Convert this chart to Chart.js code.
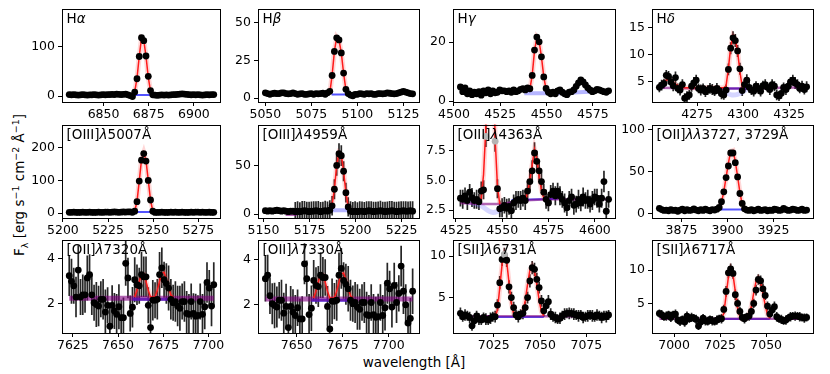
<!DOCTYPE html>
<html>
<head>
<meta charset="utf-8">
<script src="https://cdn.jsdelivr.net/npm/chart.js@4.4.1/dist/chart.umd.min.js"></script>
<style>
body { margin: 0; background: #fff; width: 830px; height: 374px; position: relative; overflow: hidden; font-family: 'DejaVu Sans', sans-serif; }
canvas { position: absolute; }
#xlab { position: absolute; left: 414px; top: 362px; transform: translate(-50%, -50%); font-size: 13.5px; white-space: nowrap; }
#ylab { position: absolute; left: 19px; top: 185px; transform: translate(-50%, -50%) rotate(-90deg); font-size: 13.5px; white-space: nowrap; }
#ylab sub, #ylab sup { font-size: 70%; line-height: 0; }
</style>
</head>
<body>
<div id="ylab">F<sub>λ</sub> [erg s<sup>−1</sup> cm<sup>−2</sup> Å<sup>−1</sup>]</div>
<div id="xlab">wavelength [Å]</div>
<script>
// pas de l'échantillonnage en longueur d'onde (Å)
const STEP = 1.25;

// ---- H alpha
const haStart = 6831;
const haFlux = [3,2.5,3,2.5,2,2.5,3,2.5,2,2.5, 2.5,3,2.5,2,2.5,3,2.5,3,3,3.5, 3,4,3.5,3,3.5,4,2.5,1,-1,
  8,35,80,118,112,81,40,11, 2.5,2,1.5,2,2.5,2,2.5,2,2.5,3, 3,3.5,4,4.5,4,3.5,3,2.5,3,2.5, 3,2.5,2,2.5,3,2.5,3,3];
const haFitFrom = 28;
const haFit = [1.5,9,36,80,117,113,80,38,10,2.5];
const haBlue = [[6867,2],[6876,2]];
const haXTicks = [6850, 6875, 6900];
const haYTicks = [0, 100];
const haYLim = [-12, 177];

// ---- H beta
const hbStart = 5050;
const hbFlux = [3.5,3,2.5,3,3.2,3,3,3.5,3.5,3, 2.8,3,3.5,3,2.5,2.8,3,2.5,2.5,2.8, 3,2.5,3,2.8,3,3.2,2.5,3.5,4.5,
  15,31,40,38.6,30,16.6,5.8, 3,2,1.5,2.5,2.5,3,2.8,2.5,3,2.8, 3,2.5,2.5,3,3,2.8,3,3.5,3.2,3, 2.8,3,3.5,4,4.5,4,3.5,3,2.8];
const hbFitFrom = 28;
const hbFit = [3.5,15,31,40.5,38.5,30,16.5,5.5,2.8];
const hbBlue = [[5086,2.3],[5094,2.3]];
const hbXTicks = [5050, 5075, 5100, 5125];
const hbYTicks = [0, 25, 50];
const hbYLim = [-2.6, 59.5];

// ---- H gamma
const hgStart = 4503.5;
const hgFlux = [4.8,3.2,4.5,2.5,3.5,2.2,3,2.5,3.2,2, 3.5,2.8,3.8,2.5,3.5,2.8,3,3.8,3.5,3.5,
  3.2,3.5,3,3.8,3.2,3.5,4,4.2,3.8,4.5, 4.2,8.7,17.3,21.7,20.1,15,8.2,4.3,3,2.5,
  3,2.5,3.5,3.8,3,2.5,2.2,3,3.2,3.8, 5,6.2,7.2,6.5,5.5,4.5,3.8,3.2,3.5,4, 3.8,3.5,3.2,3,3.5];
const hgFitFrom = 30;
const hgFit = [4,8.7,17,21.5,20.3,15,8.3,4,3];
const hgBlue = [[4538,2.7],[4556,2.7],[4576,3.3]];
const hgXTicks = [4500, 4525, 4550, 4575];
const hgYTicks = [0, 20];
const hgYLim = [-0.3, 31.4];

// ---- H delta
const hdStart = 4254.5;
const hdFlux = [4.0,4.4,4.7,6.2,6.0,5.0,4.3,5.8,3.8,3.5, 4.5,2.0,2.3,2.6,4.2,4.8,5.3,3.8,3.5,3.8,
  3.2,3.5,3.8,3.6,3.3,3.8,3.4,2.8,2.6,3.5, 7.3,11.2,13.1,12.6,10.7,7.4,3.4,
  4.5,5.3,4.0,3.5,3.3,4.2,3.8,3.3,4.3,4.5, 4.0,3.6,4.5,4.2,2.6,2.4,2.9,4.0,3.6,4.2, 5.0,5.3,4.8,4.5,3.8,4.2,3.6,4.1];
const hdErr = [0.9,1.0,0.9,1.0,1.0,0.9,1.0,1.1,0.9,1.0, 1.0,0.9,1.0,0.9,1.0,1.1,1.0,0.9,1.0,0.9,
  1.0,0.9,1.0,1.0,0.9,1.0,0.9,1.0,0.9,1.0, 1.1,1.1,1.2,1.2,1.1,1.1,1.0,
  1.0,1.1,1.0,0.9,1.0,0.9,1.0,1.0,0.9,1.0, 0.9,1.0,1.0,0.9,1.0,0.9,1.0,0.9,1.0,1.0, 0.9,1.0,1.1,1.0,0.9,1.0,0.9,1.0];
const hdFitFrom = 0;
const hdFit = [4.2,4.4,4.8,5.3,5.5,5.3,4.9,4.6,4.3,4.1, 4.0,3.9,3.9,3.9,3.9,3.9,3.9,3.9,3.9,3.9,
  3.9,3.9,3.9,3.9,3.9,3.9,3.9,3.9,3.9,4.3, 7.5,11.4,13.5,12.9,10.6,6.9,4.1,3.9];
const hdCont = [[4254.5,3.9],[4275,3.8],[4300,3.8],[4334.5,4.0]];
const hdBlue = [[4288,3.8],[4302,3.8]];
const hdBlueSamples = [[4288,3.6],[4291,3.0],[4294,2.6],[4297,2.7],[4300,3.2],[4302,3.7]];
const hdXTicks = [4275, 4300, 4325];
const hdYTicks = [5, 10, 15];
const hdYLim = [1.3, 18.5];

// ---- [OIII] 5007
const o3aStart = 5203.5;
const o3aFlux = [2.5,2.5,3,2.5,2,2.5,3,2.5,2.5,3,2.5, 2,2.5,3,2.5,2.5,3,3,2.5,3,3.5, 3,2.5,3,3.5,3,4,3.5,2.5,
  6,35,98,162,182,159,100,40,6,
  2,2.5,2.5,3,2.5,2,2.5,3,2.5,3, 2.5,2.5,3,2.5,2,2.5,3,2.5,3,3, 2.5,3,2.5,2.5,3,2,2.5];
const o3aFitFrom = 28;
const o3aFit = [2.5,6,35,98,163,185,160,100,40,6,2.5];
const o3aBlue = [[5239,3],[5250,3]];
const o3aXTicks = [5200, 5225, 5250, 5275];
const o3aYTicks = [0, 100, 200];
const o3aYLim = [-15, 271];

// ---- [OIII] 4959
const o3bStart = 5151;
const o3bFlux = [3.5,3,3.5,3,3.5,4,3.5,3,3.5,3,2.5,3,3,
  2.5,3,2.5,3,3.5,3,2.5,3,3,3.5,3,2.5,3,3.5,3,4,
  8.5,25.5,50,62,60,44,22,7.4,
  3,2.5,3,2.5,3,3,2.5,3,3.5,3, 2.5,3,3,3.5,3,2.5,3,3,3.5,3, 2.5,3,3,3.5,3,3,3.5,3];
const o3bErr = [0.3,0.3,0.3,0.3,0.3,0.3,0.3,0.3,0.3,0.3,0.3,0.3,0.3,
  9.8,10.2,9.6,10.4,10,9.7,10.3,9.9,10.1,9.8,10.4,10,9.6,10.2,9.9,10.3,
  10,10.2,10.5,10.8,10.6,10.3,10.1,9.9,
  10.2,9.8,10.1,9.7,10.3,10,9.9,10.2,9.6,10.1, 10.3,9.8,10,10.2,9.7,10.1,9.9,10.4,10,9.8, 10.2,9.9,10.1,9.7,10.3,10,9.8,10.1];
const o3bFitFrom = 28;
const o3bFit = [3.5,9,26,50,63,61,44,22,7,3.2];
const o3bCont = [[5162,-0.6],[5168,-0.6]];
const o3bBlue = [[5187,4],[5197,4]];
const o3bXTicks = [5150, 5175, 5200, 5225];
const o3bYTicks = [0, 50];
const o3bYLim = [-4, 92];

// ---- [OIII] 4363
const o3cStart = 4527.4;
const o3cFlux = [3.5,3.4,3.7,3.3,4.0,3.55,3.3,3.4,3.2,4.1, 4.2,8.7,15,22,18,8.3,4.3,2.6,2.7,2.9,
  2.65,2.8,2.45,3.1,3.3,3.4,3.3,3.5,3.3,4.1, 4.9,5.8,7.3,6.6,5.8,4.9,4.0,3.4,3.1,3.8,
  4.1,3.7,4.1,3.7,3.4,3.1,2.7,3.3,3.6,2.9, 3.0,3.4,3.1,3.6,3.3,3.4,3.0,3.3,3.6,3.5, 3.0,3.5,4.9,2.4,3.4];
const o3cErr = [0.7,0.8,0.7,0.8,0.7,0.8,0.7,0.8,0.7,0.8, 0.8,0.9,1,1,0.9,0.9,0.8,0.7,0.8,0.7,
  0.8,0.7,0.8,0.7,0.8,0.7,0.8,0.7,0.8,0.8, 0.8,0.9,0.9,0.9,0.8,0.8,0.7,0.8,0.7,0.8,
  0.7,0.8,0.7,0.8,0.7,0.8,0.7,0.8,0.7,0.8, 0.7,0.8,0.7,0.8,0.7,0.8,0.7,0.8,0.7,0.8, 0.7,0.8,0.9,0.8,0.7];
const o3cGrey = [11, 15];
const o3cFitFrom = 8;
const o3cFit = [3.3,3.5,5.5,9.5,16,22,17,8.5,4.5,3.0, null,null,null,null,null,null,null,null,null,null,
  3.3,4.0,5.0,6.3,7.6,6.8,5.3,4.2,3.5,3.3];
const o3cCont = [[4527.4,3.1],[4540,3.0],[4550,3.0],[4560,3.3],[4575,3.4],[4607.4,3.4]];
const o3cBlue = [[4555,3.35],[4580,3.45]];
const o3cBlueSamples = [[4531,3.2],[4538,2.9],[4545,2.3],[4552,2.8],[4558,3.3]];
const o3cXTicks = [4525, 4550, 4575, 4600];
const o3cYTicks = [2.5, 5.0, 7.5];
const o3cYLim = [1.83, 9.7];

// ---- [OII] 3727, 3729
const o2aStart = 3863;
const o2aFlux = [6,4.5,3.5,4,3,4.5,3.5,4,2.5,4, 5,3,4.5,3.5,4,5.5,4,3,4.5,3.5, 5,4,3,4.5,4,5,
  7,14,25.7,42.7,56.5,72,72,60.5,43.5,23.7,11.9,5.5,
  4,3.5,4.5,3,4,5,3.5,4,4.5,3, 4,3.5,5,4.5,3.5,4,6,4.5,3.5,4, 5,4.5,3.5,4,5,3.5,4];
const o2aFitFrom = 26;
const o2aFit = [6,13,26,43,60,74,75,62,44,25,11,5];
const o2aBlue = [[3896,4.5],[3909,4.5]];
const o2aXTicks = [3875, 3900, 3925];
const o2aYTicks = [0, 50, 100];
const o2aYLim = [-5.5, 106];

// ---- [OII] 7320
const o2bStart = 7623;
const o2bFlux = [3.25,3.0,2.8,2.3,3.5,2.3,2.4,2.4,3.15,3.3, 2.4,2.05,1.97,1.9,2.2,2.2,1.63,1.93,1.0,1.93,
  1.68,1.53,1.87,1.38,1.38,3.8,3.15,1.57,1.85,3.07, 2.85,2.8,3.3,3.2,3.2,1.93,0.94,2.16,2.16,2.2,
  3.3,3.6,3.07,2.9,2.7,2.2,2.05,2.1,1.9,1.8, 2.1,2.1,1.57,1.53,2.1,1.57,1.45,1.48,2.1,1.53, 1.87,2.95,2.7,1.9,2.85];
const o2bErr = [0.9,1,0.8,0.9,1.1,0.8,0.9,0.8,1,0.9, 0.9,0.8,1,0.9,0.8,0.9,1,0.8,0.9,0.9,
  0.8,0.9,1,0.8,0.9,1,0.9,0.8,0.9,1, 0.9,0.8,1,0.9,0.9,0.8,1,0.9,0.8,0.9,
  1,0.9,0.8,0.9,1,0.9,0.8,0.9,0.9,1, 0.8,0.9,1,0.9,0.8,0.9,1,0.9,0.8,0.9, 1,0.9,0.8,0.9,1];
const o2bFitFrom = 29;
const o2bFit = [2.3,2.6,3.0,3.3,3.3,3.0,2.6,2.3,2.3,2.3,2.6,3.0,3.35,3.4,3.1,2.7,2.4,2.27];
const o2bCont = [[7623,2.25],[7703,2.25]];
const o2bBlue = [[7658,2.2],[7681,2.2]];
const o2bXTicks = [7625, 7650, 7675, 7700];
const o2bYTicks = [2, 4];
const o2bYLim = [0.7, 4.86];

// ---- [OII] 7330
const o2cStart = 7633;
const o2cFlux = [3.15,3.3,2.4,2.05,1.97,1.9,2.2,2.2,1.63,1.93, 1.0,1.93,1.68,1.53,1.87,1.38,1.38,3.8,3.15,1.57,
  1.85,3.07,2.85,2.8,3.3,3.2,3.2,1.93,0.94,2.16, 2.16,2.2,3.3,3.6,3.07,2.9,2.7,2.2,2.05,2.1,
  1.9,1.8,2.1,2.1,1.57,1.53,2.1,1.57,1.45,1.48, 2.1,1.53,1.87,2.95,2.7,1.9,2.85, 2.1,2.5,3.7,2.6,2.0,1.2,1.4,2.6];
const o2cErr = [1,0.9,0.8,0.9,1,0.9,0.8,0.9,0.9,1, 0.8,0.9,1,0.9,0.8,0.9,1,0.9,0.8,0.9,
  1,0.9,0.8,0.9,1,0.9,0.8,0.9,0.9,1, 0.8,0.9,1,0.9,0.8,0.9,1,0.9,0.8,0.9,
  1,0.9,0.8,0.9,1,0.9,0.8,0.9,0.9,1, 0.8,0.9,1,0.9,0.8,0.9,1,0.9,0.8,0.9, 1,0.9,0.8,0.9,1];
const o2cFitFrom = 21;
const o2cFit = [2.3,2.6,3.0,3.3,3.3,3.0,2.6,2.3,2.3,2.3,2.6,3.0,3.35,3.4,3.1,2.7,2.4,2.27];
const o2cCont = [[7633,2.25],[7713,2.25]];
const o2cBlue = [[7658,2.2],[7681,2.2]];
const o2cXTicks = [7650, 7675, 7700];
const o2cYTicks = [2, 4];
const o2cYLim = [0.76, 4.87];

// ---- [SII] 6731
const s2aStart = 7007;
const s2aFlux = [3.1,2.7,2.9,2.8,2.6,1.6,2.2,2.8,2.4,2.3, 2.6,2.4,2.3,2.5,2.7,2.7,4.1,6.8,9.6,10.2,
  9.5,6.3,5.0,3.8,2.9,2.7,3.0,3.1,3.8,5.0, 7.0,8.6,8.4,7.2,6.2,4.6,3.4,4.0,4.5,3.0,
  2.7,2.6,2.4,2.5,2.8,3.0,3.1,3.1,3.1,3.0, 2.9,2.8,2.9,2.6,2.7,2.8,2.9,2.8,2.7,2.9, 2.8,2.6,2.8,2.7,2.9];
const s2aErr = [0.7,0.6,0.7,0.6,0.7,0.6,0.7,0.6,0.7,0.6, 0.6,0.7,0.6,0.7,0.6,0.7,0.7,0.8,0.8,0.8,
  0.8,0.8,0.7,0.7,0.6,0.7,0.6,0.7,0.7,0.7, 0.8,0.8,0.8,0.8,0.7,0.7,0.7,0.7,0.8,0.7,
  0.6,0.7,0.6,0.7,0.6,0.7,0.6,0.7,0.6,0.7, 0.6,0.7,0.6,0.7,0.6,0.7,0.6,0.7,0.6,0.7, 0.6,0.7,0.6,0.7,0.6];
const s2aGrey = [19];
const s2aFitFrom = 15;
const s2aFit = [2.7,3.5,6.2,9.0,10.1,9.3,6.8,4.3,3.0,2.7, 2.7,2.8,3.3,4.6,6.6,8.3,8.8,8.2,6.6,4.7, 3.3,2.8];
const s2aCont = [[7007,2.75],[7087,2.75]];
const s2aBlue = [[7026,2.65],[7052,2.65]];
const s2aXTicks = [7025, 7050, 7075];
const s2aYTicks = [5, 10];
const s2aYLim = [0.73, 12.0];

// ---- [SII] 6717
const s2bStart = 6992;
const s2bFlux = [3.5,3.3,3.0,3.1,3.3,2.9,3.3,3.4,2.5,2.3,2.6,2.2,
  3.1,2.7,2.9,2.8,2.6,1.6,2.2,2.8,2.4,2.3, 2.6,2.4,2.3,2.5,2.7,2.7,4.1,6.8,9.6,10.2,
  9.5,6.3,5.0,3.8,2.9,2.7,3.0,3.1,3.8,5.0, 7.0,8.6,8.4,7.2,6.2,4.6,3.4,4.0,4.5,3.0,
  2.7,2.6,2.4,2.5,2.8,3.0,3.1,3.1,3.1,3.0, 2.9,2.8,2.9];
const s2bErr = [0.6,0.7,0.6,0.7,0.6,0.7,0.6,0.7,0.6,0.7,0.6,0.7,
  0.7,0.6,0.7,0.6,0.7,0.6,0.7,0.6,0.7,0.6, 0.6,0.7,0.6,0.7,0.6,0.7,0.7,0.8,0.8,0.8,
  0.8,0.8,0.7,0.7,0.6,0.7,0.6,0.7,0.7,0.7, 0.8,0.8,0.8,0.8,0.7,0.7,0.7,0.7,0.8,0.7,
  0.6,0.7,0.6,0.7,0.6,0.7,0.6,0.7,0.6,0.7, 0.6,0.7,0.6];
const s2bFitFrom = 27;
const s2bFit = [2.7,3.5,6.2,9.0,10.1,9.3,6.8,4.3,3.0,2.7, 2.7,2.8,3.3,4.6,6.6,8.3,8.8,8.2,6.6,4.7, 3.3,2.8];
const s2bCont = [[6992,2.7],[7072,2.7]];
const s2bBlue = [[7026,2.65],[7052,2.65]];
const s2bXTicks = [7000, 7025, 7050];
const s2bYTicks = [5, 10];
const s2bYLim = [0.56, 14.6];

// disposition des panneaux (pixels de la figure)
const COLS = [62, 258, 453, 652];
const WID = [159, 162, 163, 162];
const ROWS = [6, 122, 237];
const HGT = 96;
const YW = 44, XH = 22, PT = 8, PR = 16;

Chart.defaults.font.family = "'DejaVu Sans', sans-serif";
Chart.defaults.color = '#000';

const BLUE = 'rgba(40,40,255,0.8)';
const PALEBLUE = 'rgba(90,90,255,0.45)';

const panels = [
  { t: 'Hα', start: haStart, flux: haFlux, fit: haFit, fitFrom: haFitFrom, blue: haBlue, xt: haXTicks, yt: haYTicks, yl: haYLim },
  { t: 'Hβ', start: hbStart, flux: hbFlux, fit: hbFit, fitFrom: hbFitFrom, blue: hbBlue, xt: hbXTicks, yt: hbYTicks, yl: hbYLim },
  { t: 'Hγ', start: hgStart, flux: hgFlux, fit: hgFit, fitFrom: hgFitFrom, blue: hgBlue, blueW: 4, blueC: PALEBLUE, xt: hgXTicks, yt: hgYTicks, yl: hgYLim },
  { t: 'Hδ', start: hdStart, flux: hdFlux, err: hdErr, fit: hdFit, fitFrom: hdFitFrom, cont: hdCont, blue: hdBlue, samples: hdBlueSamples, xt: hdXTicks, yt: hdYTicks, yl: hdYLim },
  { t: '[OIII]λ5007Å', start: o3aStart, flux: o3aFlux, fit: o3aFit, fitFrom: o3aFitFrom, blue: o3aBlue, xt: o3aXTicks, yt: o3aYTicks, yl: o3aYLim },
  { t: '[OIII]λ4959Å', start: o3bStart, flux: o3bFlux, err: o3bErr, fit: o3bFit, fitFrom: o3bFitFrom, cont: o3bCont, blue: o3bBlue, blueW: 4, blueC: PALEBLUE, xt: o3bXTicks, yt: o3bYTicks, yl: o3bYLim },
  { t: '[OIII]λ4363Å', start: o3cStart, flux: o3cFlux, err: o3cErr, grey: o3cGrey, fit: o3cFit, fitFrom: o3cFitFrom, cont: o3cCont, blue: o3cBlue, samples: o3cBlueSamples, xt: o3cXTicks, yt: o3cYTicks, yl: o3cYLim },
  { t: '[OII]λλ3727, 3729Å', start: o2aStart, flux: o2aFlux, fit: o2aFit, fitFrom: o2aFitFrom, blue: o2aBlue, xt: o2aXTicks, yt: o2aYTicks, yl: o2aYLim },
  { t: '[OII]λ7320Å', start: o2bStart, flux: o2bFlux, err: o2bErr, fit: o2bFit, fitFrom: o2bFitFrom, cont: o2bCont, contW: 5, blue: o2bBlue, blueW: 3, xt: o2bXTicks, yt: o2bYTicks, yl: o2bYLim },
  { t: '[OII]λ7330Å', start: o2cStart, flux: o2cFlux, err: o2cErr, fit: o2cFit, fitFrom: o2cFitFrom, cont: o2cCont, contW: 5, blue: o2cBlue, blueW: 3, xt: o2cXTicks, yt: o2cYTicks, yl: o2cYLim },
  { t: '[SII]λ6731Å', start: s2aStart, flux: s2aFlux, err: s2aErr, grey: s2aGrey, fit: s2aFit, fitFrom: s2aFitFrom, cont: s2aCont, blue: s2aBlue, xt: s2aXTicks, yt: s2aYTicks, yl: s2aYLim },
  { t: '[SII]λ6717Å', start: s2bStart, flux: s2bFlux, err: s2bErr, fit: s2bFit, fitFrom: s2bFitFrom, cont: s2bCont, blue: s2bBlue, xt: s2bXTicks, yt: s2bYTicks, yl: s2bYLim }
];

function onGrid(start, vals, from) {
  return vals.map((v, i) => ({ x: start + STEP * (i + from), y: v }));
}
function pairs(list) {
  return list.map(p => ({ x: p[0], y: p[1] }));
}
function fmt(list) {
  const dec = list.some(v => v % 1 !== 0) ? 1 : 0;
  return v => v.toFixed(dec);
}

// barres d'erreur, sous les points
const errbars = {
  id: 'errbars',
  beforeDatasetsDraw(c) {
    const ds = c.data.datasets[0];
    if (!ds.errs) return;
    const a = c.chartArea, ctx = c.ctx, xs = c.scales.x, ys = c.scales.y;
    ctx.save();
    ctx.beginPath();
    ctx.rect(a.left, a.top, a.width, a.height);
    ctx.clip();
    ctx.strokeStyle = 'rgba(0,0,0,0.85)';
    ctx.lineWidth = 1.7;
    ctx.beginPath();
    ds.data.forEach((p, i) => {
      const e = ds.errs[i];
      if (!e) return;
      const px = xs.getPixelForValue(p.x);
      ctx.moveTo(px, ys.getPixelForValue(p.y - e));
      ctx.lineTo(px, ys.getPixelForValue(p.y + e));
    });
    ctx.stroke();
    ctx.restore();
  }
};

// cadre + titre du panneau
const frame = {
  id: 'frame',
  afterDraw(c) {
    const a = c.chartArea, ctx = c.ctx;
    ctx.save();
    ctx.strokeStyle = '#000';
    ctx.lineWidth = 1;
    ctx.strokeRect(Math.round(a.left) + 0.5, Math.round(a.top) + 0.5, Math.round(a.width) - 1, Math.round(a.height) - 1);
    let x = a.left + 4.5;
    const y = a.top + 14.5;
    ctx.fillStyle = '#000';
    ctx.textBaseline = 'alphabetic';
    for (const ch of c.options.plugins.frame.title) {
      const it = /[α-ω]/.test(ch);
      ctx.font = (it ? 'italic ' : '') + "13.5px 'DejaVu Sans'";
      ctx.fillText(ch, x, y);
      x += ctx.measureText(ch).width;
    }
    ctx.restore();
  }
};

panels.forEach((p, k) => {
  const col = k % 4, row = Math.floor(k / 4);
  const cv = document.createElement('canvas');
  cv.width = WID[col] + YW + PR;
  cv.height = HGT + PT + XH;
  cv.style.left = (COLS[col] - YW) + 'px';
  cv.style.top = (ROWS[row] - PT) + 'px';
  document.body.appendChild(cv);

  const grey = p.grey || [];
  const datasets = [
    {
      data: onGrid(p.start, p.flux, 0), errs: p.err || null, showLine: false,
      pointRadius: 3.4, pointBorderWidth: 0,
      pointBackgroundColor: p.flux.map((v, i) => grey.includes(i) ? '#b4b4b4' : '#000')
    },
    { data: onGrid(p.start, p.fit, p.fitFrom), borderColor: '#ff1a1a', borderWidth: 1.5, pointRadius: 0 },
    { data: onGrid(p.start, p.fit, p.fitFrom), borderColor: 'rgba(255,60,60,0.2)', borderWidth: 5, pointRadius: 0 }
  ];
  if (p.cont) datasets.push({ data: pairs(p.cont), borderColor: 'rgba(128,0,128,0.6)', borderWidth: p.contW || 2.5, pointRadius: 0 });
  datasets.push({ data: pairs(p.blue), borderColor: p.blueC || BLUE, borderWidth: p.blueW || 2, pointRadius: 0 });
  if (p.samples) datasets.push({ data: pairs(p.samples), borderColor: 'rgba(90,90,255,0.25)', borderWidth: 5, tension: 0.4, pointRadius: 0 });

  const axisTicks = { color: '#000', font: { size: 12.5 }, maxRotation: 0, autoSkip: false };
  new Chart(cv, {
    type: 'line',
    data: { datasets },
    options: {
      responsive: false,
      animation: false,
      events: [],
      layout: { padding: { top: PT, right: PR, left: 0, bottom: 0 } },
      plugins: { legend: { display: false }, tooltip: { enabled: false }, frame: { title: p.t } },
      scales: {
        x: {
          type: 'linear', bounds: 'data', min: p.start - 4, max: p.start + 84,
          afterBuildTicks: s => { s.ticks = p.xt.map(v => ({ value: v })); },
          afterFit: s => { s.height = XH; },
          grid: { drawOnChartArea: false, tickLength: 4, color: '#000' },
          border: { display: false },
          ticks: Object.assign({ padding: 1, callback: fmt(p.xt) }, axisTicks)
        },
        y: {
          type: 'linear', bounds: 'data', min: p.yl[0], max: p.yl[1],
          afterBuildTicks: s => { s.ticks = p.yt.map(v => ({ value: v })); },
          afterFit: s => { s.width = YW; },
          grid: { drawOnChartArea: false, tickLength: 4, color: '#000' },
          border: { display: false },
          ticks: Object.assign({ padding: 3, callback: fmt(p.yt) }, axisTicks)
        }
      }
    },
    plugins: [errbars, frame]
  });
});
</script>
</body>
</html>
